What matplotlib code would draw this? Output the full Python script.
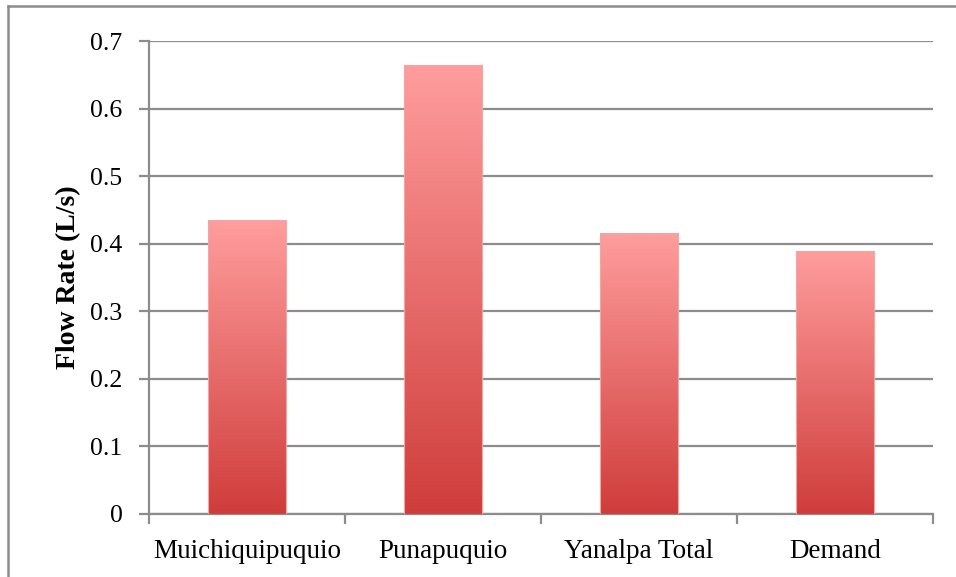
import numpy as np
import matplotlib
matplotlib.use("Agg")
import matplotlib.pyplot as plt
from matplotlib.patches import Rectangle
from matplotlib.lines import Line2D
from matplotlib.colors import LinearSegmentedColormap

categories = ["Muichiquipuquio", "Punapuquio", "Yanalpa Total", "Demand"]
flow_rates = [0.434, 0.664, 0.415, 0.389]
y_ticks = [0, 0.1, 0.2, 0.3, 0.4, 0.5, 0.6, 0.7]
y_tick_labels = ["0", "0.1", "0.2", "0.3", "0.4", "0.5", "0.6", "0.7"]

plt.rcParams['font.family'] = ['Liberation Serif', 'DejaVu Serif']

GRAY = "#8c8c8c"
grad = LinearSegmentedColormap.from_list("bar", ["#cf3d3b", "#ff9d9d"])

fig = plt.figure(figsize=(9.56, 5.77), dpi=100)
ax = fig.add_axes([149/956, 1 - 514/577, (933 - 149)/956, (514 - 41)/577])

x = np.arange(len(categories))
bars = ax.bar(x, flow_rates, width=0.40, color="none", edgecolor="none", zorder=3)

# vertical gradient inside each bar
g = np.linspace(0, 1, 256).reshape(-1, 1)
for b in bars:
    x0, w, h = b.get_x(), b.get_width(), b.get_height()
    ax.imshow(g, extent=[x0, x0 + w, 0, h], origin="lower", cmap=grad,
              aspect="auto", zorder=3, vmin=0, vmax=1)
    ax.add_patch(Rectangle((x0, 0), w, h, fill=False, edgecolor="#f2a5a5",
                           linewidth=0.8, zorder=4))

ax.set_xlim(-0.5, len(categories) - 0.5)
ax.set_ylim(0, 0.7)

ax.set_yticks(y_ticks)
ax.set_yticklabels(y_tick_labels, fontsize=18.5)
ax.yaxis.grid(True, color=GRAY, linewidth=1.6, zorder=1)
ax.set_axisbelow(True)

# x ticks between categories, labels centred under bars
ax.set_xticks(np.arange(-0.5, len(categories), 1.0))
ax.set_xticklabels([])
ax.set_xticks(x, minor=True)
ax.set_xticklabels(categories, minor=True, fontsize=19.5)
ax.tick_params(axis="x", which="major", length=7, width=1.6, color=GRAY)
ax.tick_params(axis="x", which="minor", length=0, pad=18)
ax.tick_params(axis="y", length=7, width=1.6, color=GRAY, pad=12)

for s in ["top", "right"]:
    ax.spines[s].set_visible(False)
for s in ["left", "bottom"]:
    ax.spines[s].set_color(GRAY)
    ax.spines[s].set_linewidth(1.6)

ax.set_ylabel("Flow Rate (L/s)", fontsize=20, fontweight="bold", labelpad=7)

# chart frame: only its top and left edges fall inside the picture
fig.lines.append(Line2D([8/956, 1], [1 - 6/577, 1 - 6/577], transform=fig.transFigure,
                        color=GRAY, linewidth=1.8))
fig.lines.append(Line2D([8/956, 8/956], [0, 1 - 6/577], transform=fig.transFigure,
                        color=GRAY, linewidth=1.8))

fig.savefig("out.png", dpi=100)
